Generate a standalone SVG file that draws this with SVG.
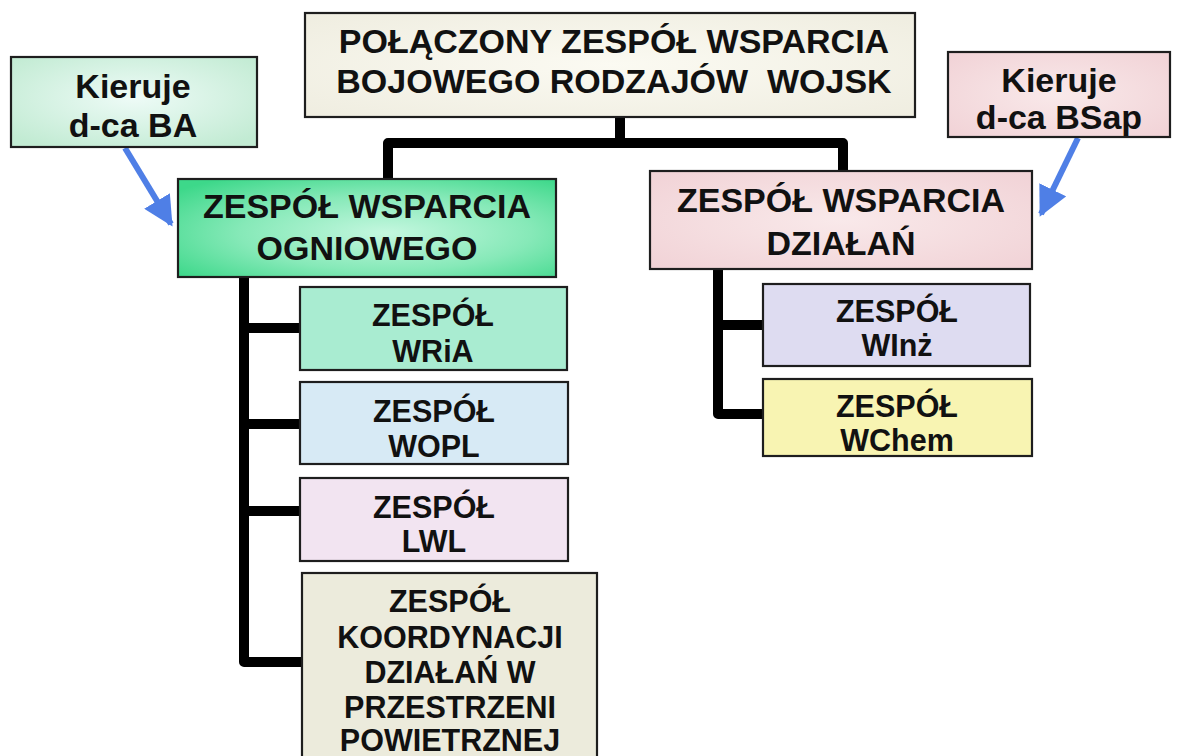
<svg xmlns="http://www.w3.org/2000/svg" width="1189" height="756" viewBox="0 0 1189 756">
  <style>
    .box { stroke: #1e1e1e; stroke-width: 2.2; }
    .t { font-family: "Liberation Sans", Arial, sans-serif; font-weight: bold; fill: #111; text-anchor: middle; }
    .big { font-size: 34px; }
    .small { font-size: 30.5px; }
    .link { fill: none; stroke: #000; stroke-width: 10; stroke-linejoin: round; stroke-linecap: square; }
    .ptr { fill: none; stroke: #4f7fe6; stroke-width: 6; }
  </style>
  <defs>
    <radialGradient id="gTop" cx="0.5" cy="0.5" r="0.7">
      <stop offset="0" stop-color="#fbfaf2"/>
      <stop offset="1" stop-color="#efede0"/>
    </radialGradient>
    <radialGradient id="gBA" cx="0.5" cy="0.45" r="0.65">
      <stop offset="0" stop-color="#eefbf7"/>
      <stop offset="1" stop-color="#c2ebd3"/>
    </radialGradient>
    <radialGradient id="gZWO" cx="0.55" cy="0.55" r="0.7">
      <stop offset="0" stop-color="#c4f7df"/>
      <stop offset="0.55" stop-color="#86e9b8"/>
      <stop offset="1" stop-color="#3dd88a"/>
    </radialGradient>
    <radialGradient id="gPink" cx="0.5" cy="0.5" r="0.7">
      <stop offset="0" stop-color="#f9e9ea"/>
      <stop offset="1" stop-color="#f1d2d6"/>
    </radialGradient>
    <marker id="head" viewBox="0 0 10 10" refX="9" refY="5" markerWidth="5" markerHeight="5" orient="auto" markerUnits="strokeWidth">
      <path d="M0,0 L10,5 L0,10 z" fill="#4f7fe6"/>
    </marker>
  </defs>

  <rect width="1189" height="756" fill="#ffffff"/>

  <!-- connectors -->
  <g id="connectors">
    <path class="link" d="M620,117 V143"/>
    <path class="link" d="M388,179 V143 H843 V171"/>
    <path class="link" d="M244,277 V662 H300"/>
    <path class="link" d="M244,328 H300 M244,424 H300 M244,511 H300"/>
    <path class="link" d="M718,269 V414 H763"/>
    <path class="link" d="M718,325 H763"/>
    <path class="ptr" d="M125,148 L171,224" marker-end="url(#head)"/>
    <path class="ptr" d="M1078,138 L1041,214" marker-end="url(#head)"/>
  </g>

  <g id="node-top">
    <rect class="box" x="305" y="13" width="610" height="104" fill="url(#gTop)"/>
    <text class="t big" x="614" y="53">POŁĄCZONY ZESPÓŁ WSPARCIA</text>
    <text class="t big" x="614" y="93" xml:space="preserve">BOJOWEGO RODZAJÓW  WOJSK</text>
  </g>

  <g id="node-ba">
    <rect class="box" x="11" y="57" width="246" height="90" fill="url(#gBA)"/>
    <text class="t big" x="133" y="98">Kieruje</text>
    <text class="t big" x="133" y="137">d-ca BA</text>
  </g>

  <g id="node-bsap">
    <rect class="box" x="948" y="52" width="222" height="85" fill="url(#gPink)"/>
    <text class="t big" x="1059" y="92">Kieruje</text>
    <text class="t big" x="1059" y="129">d-ca BSap</text>
  </g>

  <g id="node-zwo">
    <rect class="box" x="178" y="179" width="378" height="98" fill="url(#gZWO)"/>
    <text class="t big" x="367" y="218">ZESPÓŁ WSPARCIA</text>
    <text class="t big" x="367" y="260">OGNIOWEGO</text>
  </g>

  <g id="node-zwd">
    <rect class="box" x="650" y="171" width="382" height="98" fill="url(#gPink)"/>
    <text class="t big" x="841" y="212">ZESPÓŁ WSPARCIA</text>
    <text class="t big" x="841" y="255">DZIAŁAŃ</text>
  </g>

  <g id="node-wria">
    <rect class="box" x="300" y="287" width="267" height="83" fill="#a9ecd1"/>
    <text class="t small" x="433" y="326">ZESPÓŁ</text>
    <text class="t small" x="433" y="362">WRiA</text>
  </g>

  <g id="node-wopl">
    <rect class="box" x="300" y="382" width="268" height="82" fill="#d7eaf5"/>
    <text class="t small" x="434" y="422">ZESPÓŁ</text>
    <text class="t small" x="434" y="457">WOPL</text>
  </g>

  <g id="node-lwl">
    <rect class="box" x="300" y="478" width="268" height="83" fill="#f2e4f1"/>
    <text class="t small" x="434" y="518">ZESPÓŁ</text>
    <text class="t small" x="434" y="552">LWL</text>
  </g>

  <g id="node-koord">
    <rect class="box" x="302" y="573" width="295" height="190" fill="#ecebdc"/>
    <text class="t small" x="450" y="612">ZESPÓŁ</text>
    <text class="t small" x="450" y="648">KOORDYNACJI</text>
    <text class="t small" x="450" y="683">DZIAŁAŃ W</text>
    <text class="t small" x="450" y="718">PRZESTRZENI</text>
    <text class="t small" x="450" y="751">POWIETRZNEJ</text>
  </g>

  <g id="node-winz">
    <rect class="box" x="763" y="284" width="267" height="82" fill="#dedcf1"/>
    <text class="t small" x="897" y="322">ZESPÓŁ</text>
    <text class="t small" x="897" y="356">WInż</text>
  </g>

  <g id="node-wchem">
    <rect class="box" x="763" y="379" width="269" height="77" fill="#f8f4b2"/>
    <text class="t small" x="897" y="417">ZESPÓŁ</text>
    <text class="t small" x="897" y="451">WChem</text>
  </g>
</svg>
